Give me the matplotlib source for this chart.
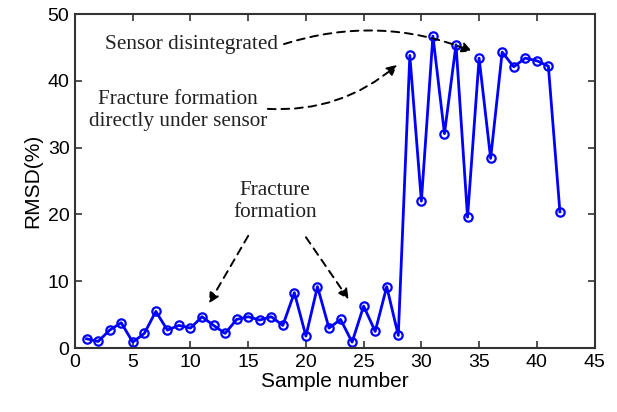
import numpy as np
import matplotlib.pyplot as plt

samples = np.arange(1, 43)
rmsd = [1.4, 1.0, 2.7, 3.8, 0.9, 2.2, 5.5, 2.7, 3.4, 3.0,
        4.7, 3.4, 2.2, 4.3, 4.7, 4.2, 4.7, 3.4, 8.3, 1.8,
        9.2, 3.0, 4.3, 0.9, 6.3, 2.5, 9.2, 1.9, 43.8, 22.0,
        46.7, 32.1, 45.4, 19.6, 43.4, 28.4, 44.3, 42.1, 43.4, 43.0,
        42.2, 20.4]

xticks = np.arange(0, 50, 5)
yticks = np.arange(0, 60, 10)

plt.rcParams['font.family'] = 'Liberation Sans'

fig = plt.figure(figsize=(6.17, 4.12), dpi=100)
ax = fig.add_axes([0.1216, 0.155, 0.842, 0.811])

ax.plot(samples, rmsd, color='#0000ff', lw=2, marker='o', ms=6,
        mfc='none', mew=1.6)

ax.set_xlim(0, 45)
ax.set_ylim(0, 50)
ax.set_xticks(xticks)
ax.set_yticks(yticks)
ax.tick_params(direction='in', top=True, right=True, labelsize=14, length=5,
               width=1.2, color='#333333', pad=4)
for s in ax.spines.values():
    s.set_linewidth(1.5)
    s.set_color('#333333')
ax.set_xlabel('Sample number', fontsize=15, labelpad=1)
ax.set_ylabel('RMSD(%)', fontsize=15, labelpad=4)

serif = dict(family='Liberation Serif', fontsize=15.3, color='#222222')
arrow = dict(arrowstyle='-|>', linestyle=(0, (4, 3)), lw=1.4, color='black',
             mutation_scale=15, shrinkA=0, shrinkB=0)

# annotations
ax.text(10.1, 45.4, 'Sensor disintegrated', ha='center', va='center', **serif)
ax.annotate('', xy=(34.4, 44.4), xytext=(18.1, 45.5),
            arrowprops=dict(arrow, connectionstyle='arc3,rad=-0.18'))

ax.text(8.9, 35.6, 'Fracture formation\ndirectly under sensor', ha='center',
        va='center', linespacing=1.2, **serif)
ax.annotate('', xy=(27.9, 42.4), xytext=(16.7, 35.8),
            arrowprops=dict(arrow, connectionstyle='arc3,rad=0.2'))

ax.text(17.3, 21.9, 'Fracture\nformation', ha='center', va='center',
        linespacing=1.2, **serif)
ax.annotate('', xy=(11.6, 6.7), xytext=(15.0, 16.8),
            arrowprops=dict(arrow, connectionstyle='arc3,rad=0'))
ax.annotate('', xy=(23.7, 7.3), xytext=(20.0, 16.6),
            arrowprops=dict(arrow, connectionstyle='arc3,rad=0'))

fig.savefig('out.png', dpi=100)
